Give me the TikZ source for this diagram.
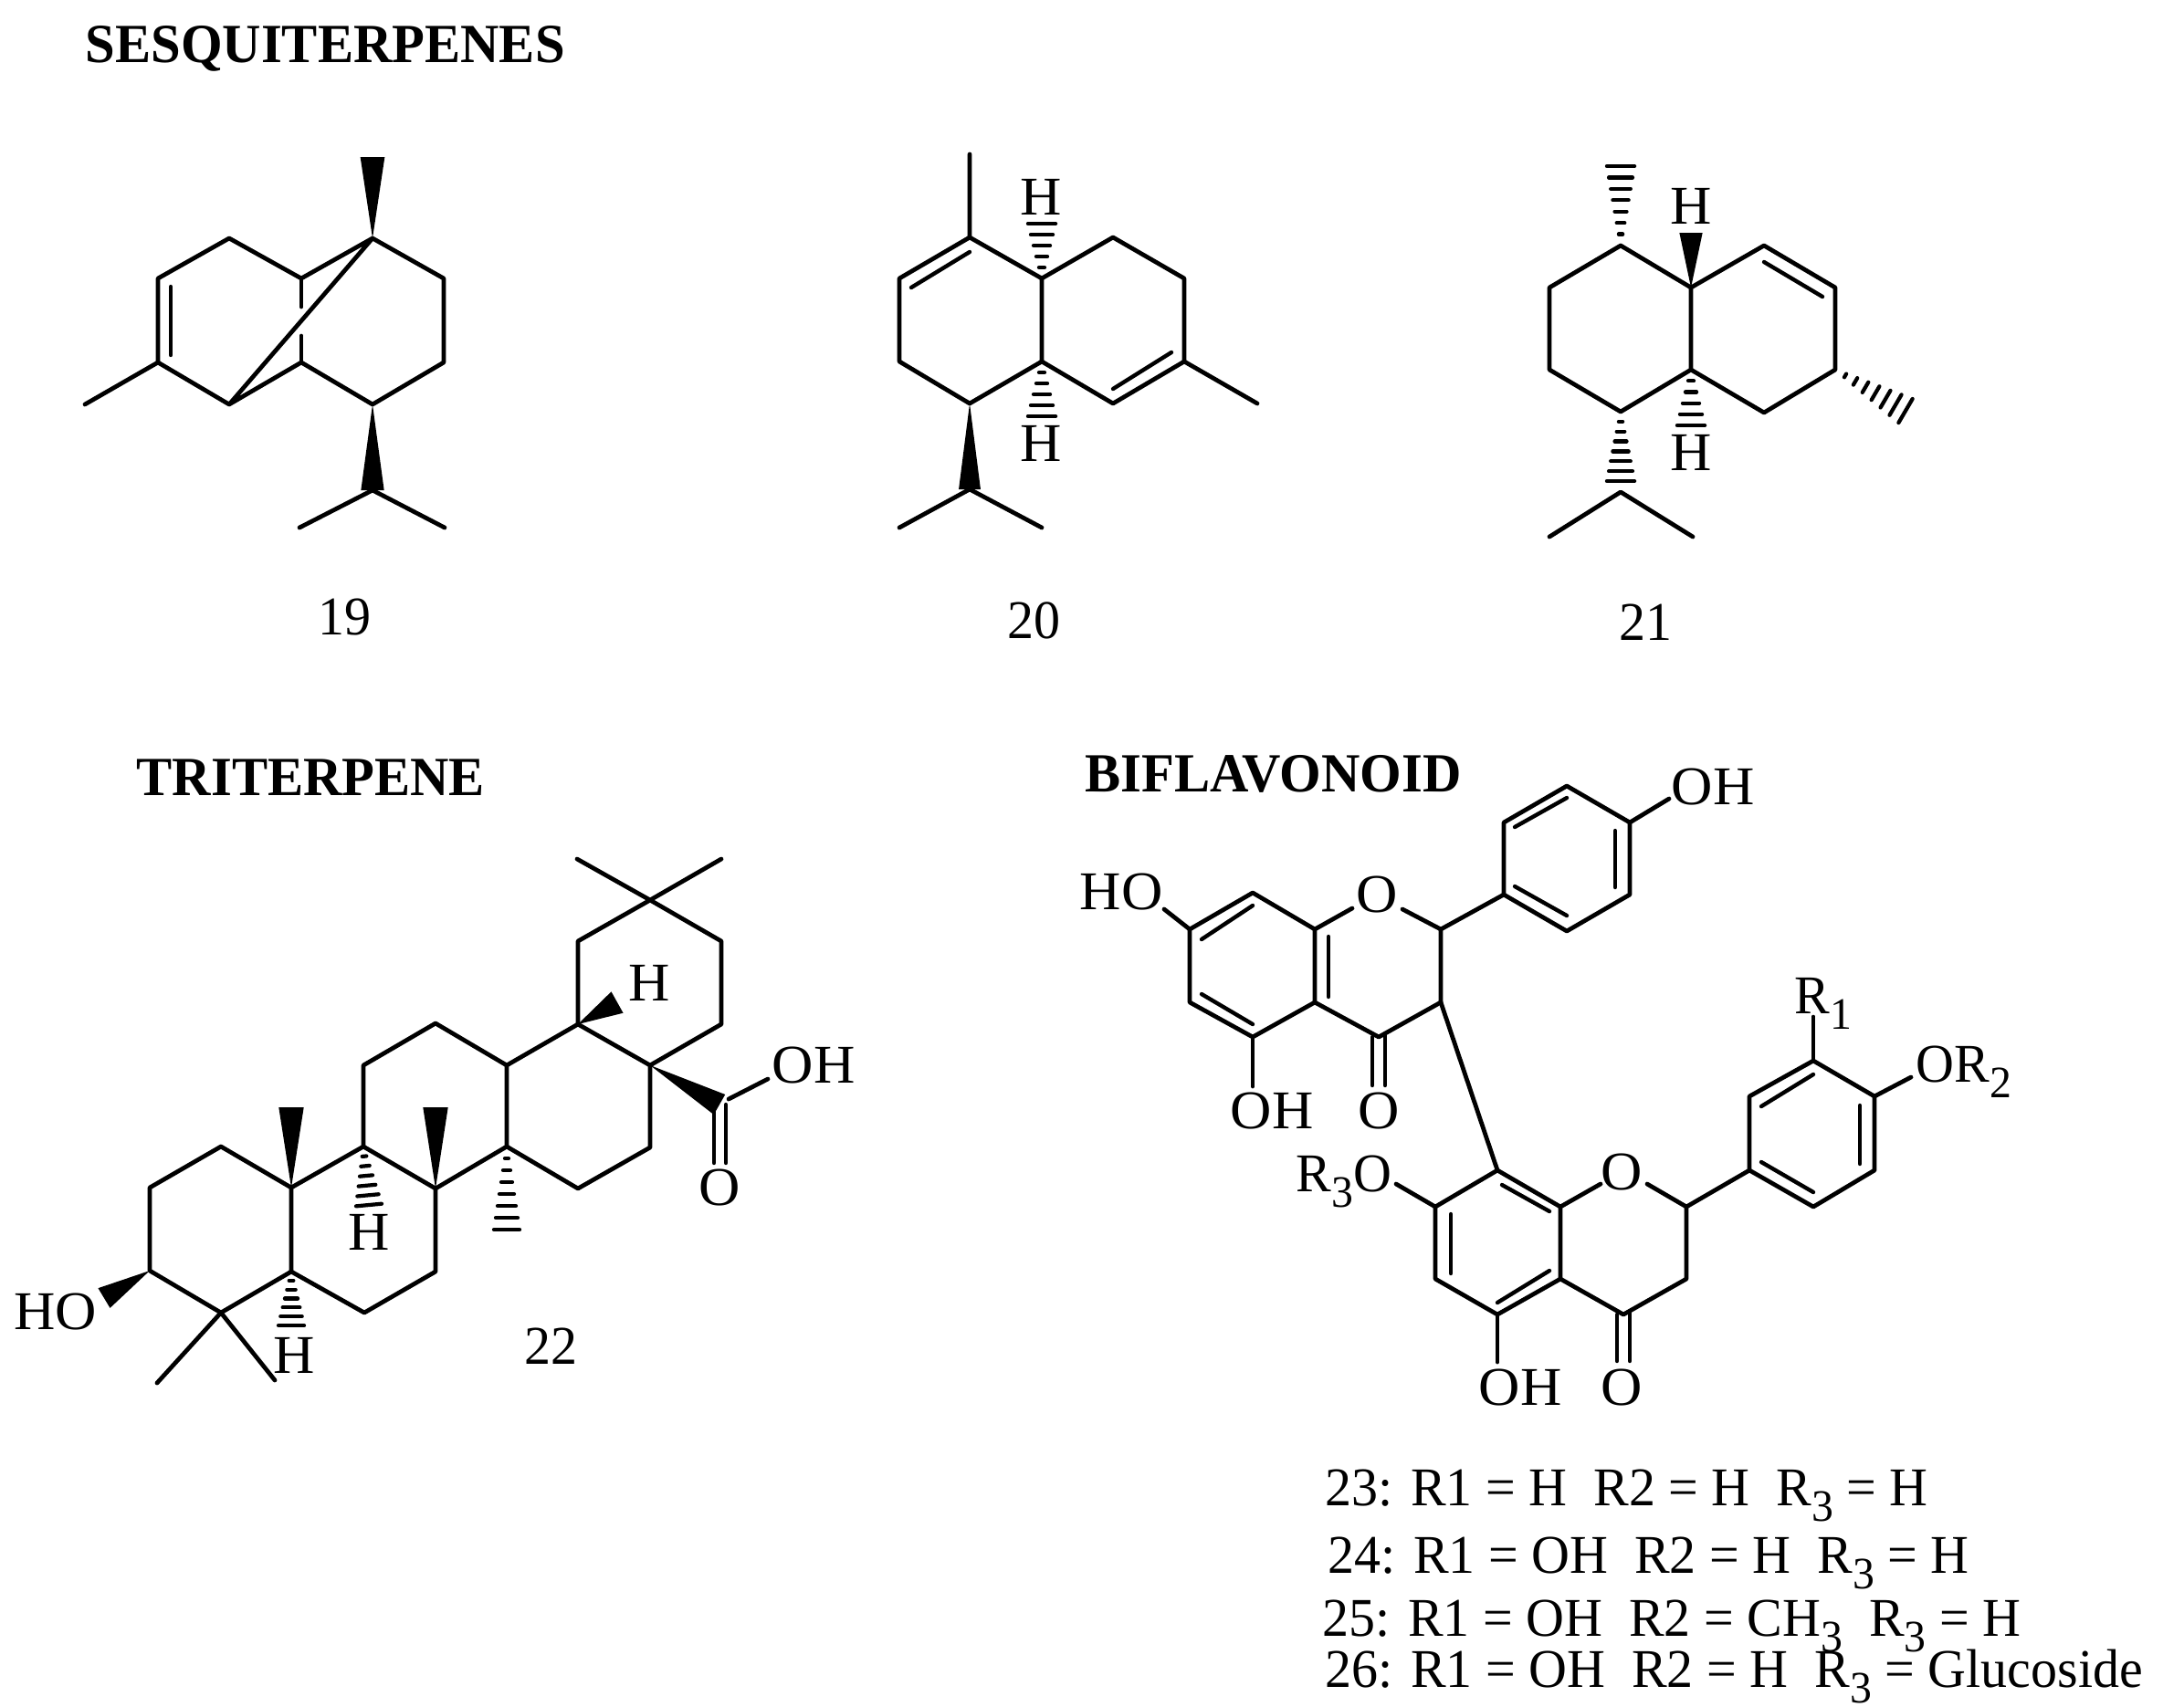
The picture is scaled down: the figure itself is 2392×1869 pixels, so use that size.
\documentclass[tikz,border=0pt]{standalone}
\usepackage{fontspec}
\setmainfont[FakeStretch=1.05]{Liberation Serif}
\newfontfamily\narrowserif[FakeStretch=.97]{Liberation Serif}
\usetikzlibrary{calc}

\tikzset{
	bond/.style={line width=1.35pt,line join=round,line cap=round},
	thinbond/.style={line width=1.25pt,line cap=round},
	atom/.style={inner sep=0pt,font=\fontsize{17}{20}\selectfont},
	rgroup/.style={inner sep=0pt,font=\fontsize{17}{20}\narrowserif},
	heading/.style={inner sep=0pt,anchor=base west,font=\fontsize{17.2}{20}\narrowserif\bfseries},
	formula/.style={inner sep=0pt,anchor=base west,font=\fontsize{17}{20}\narrowserif}
}
\newcommand{\lowsub}[1]{\raisebox{-.3em}{\fontsize{14}{14}\selectfont #1}}
\newcommand{\wedgebond}[3]{\fill ($(#2)!#3!90:(#1)$) -- (#1) -- ($(#2)!#3!-90:(#1)$) -- cycle;}
\newcommand{\hashbond}[4]{
	\foreach \i [evaluate=\i as \t using \i/#4, evaluate=\i as \hw using \i/#4*#3] in {1,...,#4}
		\draw[line width=1.2pt,line cap=round] ($(#1)!\t!(#2)!\hw pt!90:(#1)$) -- ($(#1)!\t!(#2)!\hw pt!-90:(#1)$);
}

\begin{document}
\begin{tikzpicture}[x=0.01cm,y=-0.01cm]
		\useasboundingbox (0,0) rectangle (2392,1869);
		
		% headings
		\node[heading] (sesq) at (93,68) {SESQUITERPENES};
		\node[heading] (trit) at (149,871) {TRITERPENE};
		\node[heading] (bifl) at (1188,867) {BIFLAVONOID};
		
		% 19
		\coordinate (a1) at (408,261); \coordinate (a2) at (486,305);
		\coordinate (a3) at (486,397); \coordinate (a4) at (408,443);
		\coordinate (a5) at (330,397); \coordinate (a6) at (330,305);
		\coordinate (a7) at (251,261); \coordinate (a8) at (173,305);
		\coordinate (a9) at (173,397); \coordinate (a10) at (251,443);
		\coordinate (ame) at (93,443); \coordinate (atop) at (408,172);
		\coordinate (aiso) at (408,537); \coordinate (aisol) at (328,578);
		\coordinate (aisor) at (487,578);
		\coordinate (ad1) at (187,314); \coordinate (ad2) at (187,389);
		\coordinate (ab1) at (330,336); \coordinate (ab2) at (330,368);
		\draw[bond] (a1) -- (a2) -- (a3) -- (a4) -- (a5) -- (a10) -- (a9) -- (a8) -- (a7) -- (a6) -- (a1) -- (a10);
		\draw[bond] (a9) -- (ame);
		\draw[bond] (a6) -- (ab1);
		\draw[bond] (a5) -- (ab2);
		\draw[thinbond] (ad1) -- (ad2);
		\draw[bond] (aisol) -- (aiso) -- (aisor);
		\wedgebond{a1}{atop}{3.8pt}
		\wedgebond{a4}{aiso}{3.6pt}
		\node[rgroup] (n19) at (377,676) {19};
		
		% 20
		\coordinate (c1) at (1062,260); \coordinate (c2) at (985,305);
		\coordinate (c3) at (985,396); \coordinate (c4) at (1062,442);
		\coordinate (c5) at (1141,396); \coordinate (c6) at (1141,305);
		\coordinate (c7) at (1219,260); \coordinate (c8) at (1297,305);
		\coordinate (c9) at (1297,396); \coordinate (c10) at (1219,442);
		\coordinate (cme1) at (1062,169); \coordinate (cme2) at (1377,442);
		\coordinate (ciso) at (1062,536); \coordinate (cisol) at (985,578);
		\coordinate (cisor) at (1141,578);
		\coordinate (cd1) at (1062,276); \coordinate (cd2) at (998,315);
		\coordinate (cd3) at (1283,386); \coordinate (cd4) at (1219,426);
		\coordinate (chu) at (1141,245); \coordinate (chd) at (1141,456);
		\draw[bond] (c1) -- (c2) -- (c3) -- (c4) -- (c5) -- (c6) -- (c1) -- (cme1);
		\draw[bond] (c6) -- (c7) -- (c8) -- (c9) -- (c10) -- (c5);
		\draw[bond] (c9) -- (cme2);
		\draw[thinbond] (cd1) -- (cd2);
		\draw[thinbond] (cd3) -- (cd4);
		\draw[bond] (cisol) -- (ciso) -- (cisor);
		\wedgebond{c4}{ciso}{3.4pt}
		\hashbond{c6}{chu}{4.3}{5}
		\hashbond{c5}{chd}{4.3}{5}
		\node[atom] (hc1) at (1140,216) {H};
		\node[atom] (hc2) at (1140,486) {H};
		\node[rgroup] (n20) at (1132,680) {20};
		
		% 21
		\coordinate (e1) at (1775,269); \coordinate (e2) at (1697,315);
		\coordinate (e3) at (1697,405); \coordinate (e4) at (1775,451);
		\coordinate (e5) at (1852,405); \coordinate (e6) at (1852,315);
		\coordinate (e7) at (1932,269); \coordinate (e8) at (2010,315);
		\coordinate (e9) at (2010,405); \coordinate (e10) at (1932,452);
		\coordinate (eme1) at (1775,182); \coordinate (eme2) at (2087,450);
		\coordinate (eiso) at (1775,539); \coordinate (eisoh) at (1775,527);
		\coordinate (eisol) at (1697,588); \coordinate (eisor) at (1854,588);
		\coordinate (ed1) at (1932,287); \coordinate (ed2) at (1996,325);
		\coordinate (ehu) at (1852,255); \coordinate (ehd) at (1852,466);
		\draw[bond] (e1) -- (e2) -- (e3) -- (e4) -- (e5) -- (e6) -- (e1);
		\draw[bond] (e6) -- (e7) -- (e8) -- (e9) -- (e10) -- (e5);
		\draw[thinbond] (ed1) -- (ed2);
		\draw[bond] (eisol) -- (eiso) -- (eisor);
		\hashbond{e1}{eme1}{4.3}{7}
		\hashbond{e9}{eme2}{4.3}{7}
		\hashbond{e4}{eisoh}{4.3}{7}
		\hashbond{e5}{ehd}{4.3}{5}
		\wedgebond{e6}{ehu}{3.6pt}
		\node[atom] (he1) at (1852,226) {H};
		\node[atom] (he2) at (1852,496) {H};
		\node[rgroup] (n21) at (1802,682) {21};
		
		% 22
		\coordinate (g1) at (242,1256); \coordinate (g2) at (164,1301);
		\coordinate (g3) at (164,1392); \coordinate (g4) at (242,1438);
		\coordinate (g5) at (319,1393); \coordinate (g6) at (319,1301);
		\coordinate (g7) at (398,1256); \coordinate (g8) at (477,1302);
		\coordinate (g9) at (477,1393); \coordinate (g10) at (399,1438);
		\coordinate (g11) at (398,1167); \coordinate (g12) at (477,1121);
		\coordinate (g13) at (555,1167); \coordinate (g14) at (555,1256);
		\coordinate (g15) at (633,1122); \coordinate (g16) at (712,1167);
		\coordinate (g17) at (712,1257); \coordinate (g18) at (633,1302);
		\coordinate (g19) at (633,1031); \coordinate (g20) at (712,986);
		\coordinate (g21) at (790,1031); \coordinate (g22) at (790,1122);
		\coordinate (gme1) at (632,941); \coordinate (gme2) at (790,941);
		\coordinate (gme3) at (172,1515); \coordinate (gme4) at (301,1512);
		\coordinate (gme5) at (319,1213); \coordinate (gme6) at (477,1213);
		\coordinate (gme7) at (555,1347);
		\coordinate (gc) at (788,1210); \coordinate (goh) at (841,1182);
		\coordinate (gc1) at (798,1204);
		\coordinate (go1) at (782,1213); \coordinate (go2) at (782,1274);
		\coordinate (go3) at (795,1210); \coordinate (go4) at (795,1274);
		\coordinate (gho) at (114,1422); \coordinate (gh1) at (676,1098);
		\coordinate (gh2) at (404,1320); \coordinate (gh3) at (319,1452);
		\draw[bond] (g1) -- (g2) -- (g3) -- (g4) -- (g5) -- (g6) -- (g1);
		\draw[bond] (g6) -- (g7) -- (g8) -- (g9) -- (g10) -- (g5);
		\draw[bond] (g7) -- (g11) -- (g12) -- (g13) -- (g14) -- (g8);
		\draw[bond] (g14) -- (g18) -- (g17) -- (g16) -- (g15) -- (g13);
		\draw[bond] (g16) -- (g22) -- (g21) -- (g20) -- (g19) -- (g15);
		\draw[bond] (gme1) -- (g20) -- (gme2);
		\draw[bond] (gme3) -- (g4) -- (gme4);
		\draw[bond] (gc1) -- (goh);
		\draw[thinbond] (go1) -- (go2);
		\draw[thinbond] (go3) -- (go4);
		\wedgebond{g6}{gme5}{3.9pt}
		\wedgebond{g8}{gme6}{3.9pt}
		\wedgebond{g16}{gc}{3.6pt}
		\wedgebond{g3}{gho}{3.6pt}
		\wedgebond{g15}{gh1}{3.8pt}
		\hashbond{g7}{gh2}{4}{6}
		\hashbond{g14}{gme7}{4}{7}
		\hashbond{g5}{gh3}{4}{6}
		\node[atom] (hg1) at (711,1077) {H};
		\node[atom] (hg2) at (404,1350) {H};
		\node[atom] (hg3) at (322,1485) {H};
		\node[atom] (hog) at (61,1437) {HO};
		\node[atom] (ohg) at (891,1167) {OH};
		\node[atom] (og) at (788,1301) {O};
		\node[rgroup] (n22) at (603,1475) {22};
		
		% 23-26, upper half
		\coordinate (m1) at (1372,978); \coordinate (m2) at (1303,1018);
		\coordinate (m3) at (1303,1098); \coordinate (m4) at (1372,1136);
		\coordinate (m5) at (1440,1098); \coordinate (m6) at (1440,1018);
		\coordinate (m7) at (1578,1018); \coordinate (m8) at (1578,1098);
		\coordinate (m9) at (1510,1136);
		\coordinate (mo1) at (1481,995); \coordinate (mo2) at (1536,996);
		\coordinate (mho) at (1275,996); \coordinate (moh) at (1372,1190);
		\coordinate (mc1) at (1503,1136); \coordinate (mc2) at (1503,1189);
		\coordinate (mc3) at (1517,1132); \coordinate (mc4) at (1517,1189);
		\coordinate (md1) at (1316,1029); \coordinate (md2) at (1372,992);
		\coordinate (md3) at (1455,1026); \coordinate (md4) at (1455,1092);
		\coordinate (md5) at (1316,1089); \coordinate (md6) at (1372,1122);
		\coordinate (p1) at (1647,980); \coordinate (p2) at (1647,901);
		\coordinate (p3) at (1716,861); \coordinate (p4) at (1785,901);
		\coordinate (p5) at (1785,980); \coordinate (p6) at (1716,1020);
		\coordinate (poh) at (1828,875);
		\coordinate (pd1) at (1659,906); \coordinate (pd2) at (1716,874);
		\coordinate (pd3) at (1769,910); \coordinate (pd4) at (1769,972);
		\coordinate (pd5) at (1659,971); \coordinate (pd6) at (1716,1003);
		\draw[bond] (mo1) -- (m6) -- (m1) -- (m2) -- (m3) -- (m4) -- (m5) -- (m6);
		\draw[bond] (mo2) -- (m7) -- (m8) -- (m9) -- (m5);
		\draw[bond] (m2) -- (mho);
		\draw[bond] (m4) -- (moh);
		\draw[bond] (m7) -- (p1) -- (p2) -- (p3) -- (p4) -- (p5) -- (p6) -- (p1);
		\draw[bond] (p4) -- (poh);
		\draw[thinbond] (mc1) -- (mc2);
		\draw[thinbond] (mc3) -- (mc4);
		\draw[thinbond] (md1) -- (md2);
		\draw[thinbond] (md3) -- (md4);
		\draw[thinbond] (md5) -- (md6);
		\draw[thinbond] (pd1) -- (pd2);
		\draw[thinbond] (pd3) -- (pd4);
		\draw[thinbond] (pd5) -- (pd6);
		\node[atom] (hom) at (1228,977) {HO};
		\node[atom] (om1) at (1508,980) {O};
		\node[atom] (ohm) at (1393,1217) {OH};
		\node[atom] (om2) at (1510,1217) {O};
		\node[atom] (ohp) at (1876,862) {OH};
		
		% 23-26, lower half
		\coordinate (q1) at (1640,1282); \coordinate (q2) at (1572,1322);
		\coordinate (q3) at (1572,1401); \coordinate (q4) at (1640,1440);
		\coordinate (q5) at (1709,1401); \coordinate (q6) at (1709,1322);
		\coordinate (q7) at (1847,1322); \coordinate (q8) at (1847,1401);
		\coordinate (q9) at (1778,1440);
		\coordinate (qo1) at (1753,1297); \coordinate (qo2) at (1804,1297);
		\coordinate (qo3) at (1529,1297); \coordinate (qoh) at (1640,1492);
		\coordinate (qc1) at (1771,1440); \coordinate (qc2) at (1771,1491);
		\coordinate (qc3) at (1785,1436); \coordinate (qc4) at (1785,1491);
		\coordinate (qd1) at (1645,1298); \coordinate (qd2) at (1697,1327);
		\coordinate (qd3) at (1589,1330); \coordinate (qd4) at (1589,1395);
		\coordinate (qd5) at (1640,1427); \coordinate (qd6) at (1697,1392);
		\coordinate (s1) at (1916,1282); \coordinate (s2) at (1916,1201);
		\coordinate (s3) at (1986,1162); \coordinate (s4) at (2053,1201);
		\coordinate (s5) at (2053,1282); \coordinate (s6) at (1986,1322);
		\coordinate (sr1) at (1986,1114); \coordinate (sr2) at (2093,1180);
		\coordinate (sd1) at (1929,1212); \coordinate (sd2) at (1986,1177);
		\coordinate (sd3) at (2037,1211); \coordinate (sd4) at (2037,1275);
		\coordinate (sd5) at (1929,1273); \coordinate (sd6) at (1986,1306);
		\draw[bond] (m8) -- (q1);
		\draw[bond] (qo1) -- (q6) -- (q1) -- (q2) -- (q3) -- (q4) -- (q5) -- (q6);
		\draw[bond] (qo2) -- (q7) -- (q8) -- (q9) -- (q5);
		\draw[bond] (q2) -- (qo3);
		\draw[bond] (q4) -- (qoh);
		\draw[bond] (q7) -- (s1) -- (s2) -- (s3) -- (s4) -- (s5) -- (s6) -- (s1);
		\draw[bond] (s3) -- (sr1);
		\draw[bond] (s4) -- (sr2);
		\draw[thinbond] (qc1) -- (qc2);
		\draw[thinbond] (qc3) -- (qc4);
		\draw[thinbond] (qd1) -- (qd2);
		\draw[thinbond] (qd3) -- (qd4);
		\draw[thinbond] (qd5) -- (qd6);
		\draw[thinbond] (sd1) -- (sd2);
		\draw[thinbond] (sd3) -- (sd4);
		\draw[thinbond] (sd5) -- (sd6);
		\node[atom] (oq1) at (1776,1284) {O};
		\node[rgroup,anchor=base east] (r3o) at (1525,1305) {R\lowsub{3}O};
		\node[atom] (ohq) at (1665,1520) {OH};
		\node[atom] (oq2) at (1776,1520) {O};
		\node[rgroup,anchor=base west] (r1s) at (1965,1110) {R\lowsub{1}};
		\node[rgroup,anchor=base west] (r2s) at (2098,1185) {OR\lowsub{2}};
		
		% labels
		\node[formula] (f23) at (1451,1649) {23: R1 = H\ \ R2 = H\ \ R\lowsub{3} = H};
		\node[formula] (f24) at (1454,1723) {24: R1 = OH\ \ R2 = H\ \ R\lowsub{3} = H};
		\node[formula] (f25) at (1448,1792) {25: R1 = OH\ \ R2 = CH\lowsub{3}\ \ R\lowsub{3} = H};
		\node[formula] (f26) at (1451,1848) {26: R1 = OH\ \ R2 = H\ \ R\lowsub{3} = Glucoside};
\end{tikzpicture}
\end{document}
